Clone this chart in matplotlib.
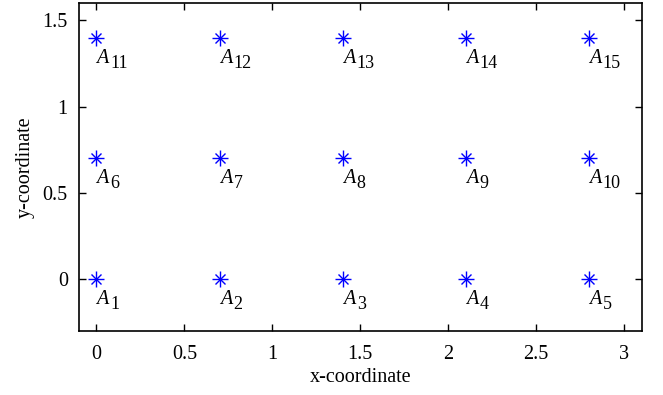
import matplotlib
matplotlib.use("Agg")
import matplotlib.pyplot as plt
import numpy as np

# node coordinates
x_nodes = [0, 0.7, 1.4, 2.1, 2.8]
y_nodes = [0, 0.7, 1.4]
node_ids = [str(i + 1) for i in range(15)]

plt.rcParams["font.family"] = ["Liberation Serif", "DejaVu Serif"]
plt.rcParams["font.size"] = 14.5

xx, yy = np.meshgrid(x_nodes, y_nodes)
xs = xx.ravel()
ys = yy.ravel()

fig = plt.figure(figsize=(6.63, 3.95), dpi=100)
ax = fig.add_axes([0.119, 0.162, 0.849, 0.83])

# matlab-style asterisk: plus + cross
ax.plot(xs, ys, linestyle="none", marker="+", ms=11, mew=1.0, color="blue")
ax.plot(xs, ys, linestyle="none", marker="x", ms=7.8, mew=1.0, color="blue")

# label A_i: italic A plus lowered index
for x, y, k in zip(xs, ys, node_ids):
    ax.annotate("A", (x, y), xytext=(0, -18), textcoords="offset points",
                ha="left", va="baseline", fontsize=14.5, style="italic")
    ax.annotate(k, (x, y), xytext=(10, -21.5), textcoords="offset points",
                ha="left", va="baseline", fontsize=13)

ax.set_xlim(-0.1, 3.1)
ax.set_ylim(-0.3, 1.6)
ax.set_xticks([0, 0.5, 1, 1.5, 2, 2.5, 3])
ax.set_xticklabels(["0", "0.5", "1", "1.5", "2", "2.5", "3"])
ax.set_yticks([0, 0.5, 1, 1.5])
ax.set_yticklabels(["0", "0.5", "1", "1.5"])
ax.tick_params(axis="x", direction="in", top=True, length=5, width=1.0, pad=10)
ax.tick_params(axis="y", direction="in", right=True, length=5, width=1.0, pad=8)
for s in ax.spines.values():
    s.set_linewidth(1.2)
ax.set_xlabel("x-coordinate", labelpad=3)
ax.set_ylabel("y-coordinate", labelpad=6)

fig.savefig("out.png", dpi=100)
